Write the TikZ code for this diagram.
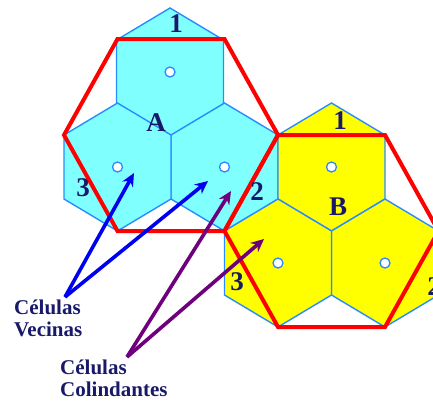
\documentclass[tikz,border=0pt]{standalone}
\usepackage{fontspec}
\setmainfont{Liberation Serif}
\usetikzlibrary{arrows.meta, positioning}
\definecolor{cellcyan}{RGB}{128,255,255}
\definecolor{cellyellow}{RGB}{255,255,0}
\definecolor{celledge}{RGB}{40,140,255}
\definecolor{navytext}{RGB}{25,25,105}
\definecolor{vecblue}{RGB}{0,0,240}
\definecolor{colpurple}{RGB}{110,0,125}
% pointy-top hexagonal cell around the current point
\newcommand{\hexcell}{+(0,-64) -- +(53.5,-32) -- +(53.5,32) -- +(0,64) -- +(-53.5,32) -- +(-53.5,-32) -- cycle}
% flat-top cluster outline around the current point
\newcommand{\clusterhex}{+(-53.5,-96) -- +(53.5,-96) -- +(107,0) -- +(53.5,96) -- +(-53.5,96) -- +(-107,0) -- cycle}

\begin{document}
\begin{tikzpicture}[
    x=1pt, y=-1pt,
    cellA/.style={draw=celledge, fill=cellcyan, line width=1.4pt},
    cellB/.style={draw=celledge, fill=cellyellow, line width=1.4pt},
    antenna/.style={circle, draw=celledge, fill=white, line width=1.3pt, inner sep=0pt, minimum size=10pt},
    clusterline/.style={draw=red, line width=4pt, line join=miter},
    shadowline/.style={draw=black!75, line width=1.2pt},
    num/.style={text=navytext, font=\fontsize{27}{30}\selectfont\bfseries, inner sep=0pt},
    caption/.style={text=navytext, font=\fontsize{21}{22}\selectfont\bfseries, align=left, inner sep=0pt},
    vecarrow/.style={-{Stealth[length=13pt,width=12pt]}, vecblue, line width=3.6pt},
    colarrow/.style={-{Stealth[length=13pt,width=12pt]}, colpurple, line width=3.6pt}
]
\useasboundingbox (0,0) rectangle (433,405);
\clip (0,0) rectangle (433,405);

% cell centres
\coordinate (a1) at (170,72);
\coordinate (a3) at (117.5,167);
\coordinate (a2) at (224.5,167);
\coordinate (b1) at (331.5,167);
\coordinate (b3) at (278,263);
\coordinate (b2) at (385,263);
\coordinate (ca) at (171,135);
\coordinate (cb) at (331.5,231);

\foreach \c in {a1,a2,a3}
    \draw[cellA] (\c) \hexcell;
\foreach \c in {b1,b2,b3}
    \draw[cellB] (\c) \hexcell;

\foreach \c in {a1,a2,a3,b1,b2,b3}
    \node[antenna] (ant-\c) at (\c) {};

% cluster outlines
\begin{scope}[shift={(0.5,3)}]
\draw[shadowline] (ca) \clusterhex;
\draw[shadowline] (cb) \clusterhex;
\end{scope}
\draw[clusterline] (ca) \clusterhex;
\draw[clusterline] (cb) \clusterhex;

% labels
\node[num] (lblA1) at (176,24) {1};
\node[num] (lblA) at (156,123) {A};
\node[num] (lblA3) at (83,188) {3};
\node[num] (lblA2) at (257,192) {2};
\node[num] (lblB1) at (340,121) {1};
\node[num] (lblB) at (338,207) {B};
\node[num] (lblB3) at (237,282) {3};
\node[num] (lblB2) at (434,287) {2};

\node[caption, anchor=north west] (vecinas) at (14,300) {Células\\Vecinas};
\node[caption, anchor=north west] (colindantes) at (60,360) {Células\\Colindantes};

% arrows
\coordinate (vtail) at (65,297);
\coordinate (vtipL) at (134,173);
\coordinate (vtipR) at (208,181);
\coordinate (ctail) at (127,357);
\coordinate (ctipA) at (231,191);
\coordinate (ctipB) at (264,239);
\draw[vecarrow] (vtail) -- (vtipL);
\draw[vecarrow] (vtail) -- (vtipR);
\draw[colarrow] (ctail) -- (ctipA);
\draw[colarrow] (ctail) -- (ctipB);
\end{tikzpicture}
\end{document}
